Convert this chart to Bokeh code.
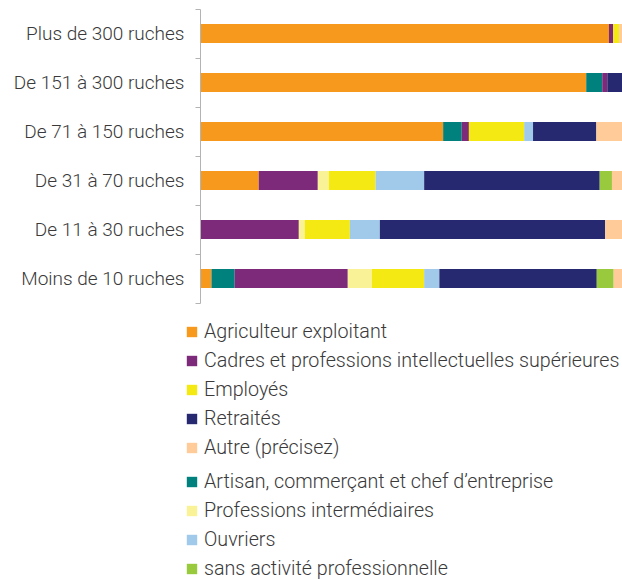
from bokeh.plotting import figure
from bokeh.models import (ColumnDataSource, Range1d, FixedTicker, Legend, LegendItem,
                          LinearAxis)
from bokeh.embed import file_html
from bokeh.resources import INLINE

categories = ["Plus de 300 ruches", "De 151 à 300 ruches", "De 71 à 150 ruches",
              "De 31 à 70 ruches", "De 11 à 30 ruches", "Moins de 10 ruches"]

agriculteur = [96.8, 91.4, 57.5, 13.8, 0.0, 2.6]
artisan = [0.0, 3.8, 4.4, 0.0, 0.0, 5.5]
cadres = [1.0, 1.2, 1.7, 14.0, 23.3, 26.8]
prof_inter = [0.0, 0.0, 0.0, 2.6, 1.4, 5.7]
employes = [1.4, 0.0, 13.1, 11.1, 10.7, 12.4]
ouvriers = [0.0, 0.0, 2.1, 11.5, 7.1, 3.6]
retraites = [0.0, 3.6, 15.0, 41.6, 53.4, 37.3]
sans_activite = [0.0, 0.0, 0.0, 2.9, 0.0, 4.0]
autre = [0.8, 0.0, 6.2, 2.6, 4.0, 2.1]

series_keys = ["agri", "artisan", "cadres", "profint", "employes", "ouvriers",
               "retraites", "sans", "autre"]
series_labels = ["Agriculteur exploitant", "Artisan, commerçant et chef d’entreprise",
                 "Cadres et professions intellectuelles supérieures",
                 "Professions intermédiaires", "Employés", "Ouvriers", "Retraités",
                 "sans activité professionnelle", "Autre (précisez)"]
series_values = [agriculteur, artisan, cadres, prof_inter, employes, ouvriers,
                 retraites, sans_activite, autre]
colors = ["#F7991C", "#00817E", "#7E2A7A", "#FAF296", "#F5E914", "#A0C9EA",
          "#272970", "#99C93D", "#FECB99"]

legend_group1 = ["agri", "cadres", "employes", "retraites", "autre"]
legend_group2 = ["artisan", "profint", "ouvriers", "sans"]

n = len(categories)
ypos = [n - 1 - i + 0.5 for i in range(n)]
data = {"y": ypos}
for k, v in zip(series_keys, series_values):
    data[k] = v
source = ColumnDataSource(data)

W, H = 622, 580
band = 49          # px per category band
top_px = 8.5       # px from figure top to first band
axis_px = 200      # px from figure left to the value axis
FONT = "Roboto Light"
TXT = "#3a3a3a"

x_start = -axis_px * 100.0 / (W - axis_px)
y_end = n + top_px / band
p = figure(width=W, height=H, output_backend="svg", toolbar_location=None,
           x_range=Range1d(x_start, 100), y_range=Range1d(y_end - H / band, y_end),
           min_border_left=0, min_border_right=0, min_border_top=0,
           min_border_bottom=0, x_axis_location=None, y_axis_location=None)
p.outline_line_color = None
p.xgrid.visible = False
p.ygrid.visible = False
p.background_fill_color = "white"

renderers = p.hbar_stack(series_keys, y="y", height=19 / band, color=colors,
                         source=source, line_color=None)
rmap = dict(zip(series_keys, renderers))
lmap = dict(zip(series_keys, series_labels))

ax = LinearAxis(fixed_location=0)
ax.bounds = (0, n)
ax.ticker = FixedTicker(ticks=ypos, minor_ticks=list(range(n + 1)))
ax.major_label_overrides = {y: c for y, c in zip(ypos, categories)}
ax.major_tick_out = 0
ax.major_tick_in = 0
ax.minor_tick_out = 5
ax.minor_tick_in = 0
ax.minor_tick_line_color = "#b3b3b3"
ax.axis_line_color = "#b3b3b3"
ax.major_label_standoff = 11
ax.major_label_text_font = FONT
ax.major_label_text_font_size = "19px"
ax.major_label_text_color = TXT
p.add_layout(ax, "left")


def make_legend(keys, loc):
    lg = Legend(items=[LegendItem(label=lmap[k], renderers=[rmap[k]]) for k in keys],
                location=loc, orientation="vertical")
    lg.padding = 0
    lg.margin = 0
    lg.border_line_alpha = 0
    lg.background_fill_alpha = 0
    lg.glyph_width = 13
    lg.glyph_height = 13
    lg.label_standoff = 6
    lg.label_height = 18
    lg.spacing = 6
    lg.label_text_font = FONT
    lg.label_text_font_size = "19.7px"
    lg.label_text_color = TXT
    return lg


p.add_layout(make_legend(legend_group1, (185, 121)), "center")
p.add_layout(make_legend(legend_group2, (185, 0)), "center")

open("out.html", "w").write(file_html(p, INLINE))
